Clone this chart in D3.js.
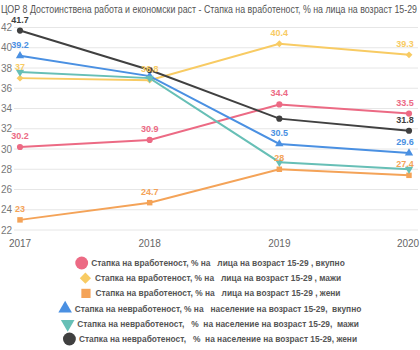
<!DOCTYPE html>
<html>
<head>
<meta charset="utf-8">
<script src="https://cdn.jsdelivr.net/npm/d3@7"></script>
<style>
  body { margin: 0; background: #fff; }
  svg { font-family: "Liberation Sans", Arial, sans-serif; }
  .leg text { white-space: pre; }
</style>
</head>
<body>
<div id="chart"></div>
<script>
// data
const years = ["2017", "2018", "2019", "2020"]
const yTicks = [22, 24, 26, 28, 30, 32, 34, 36, 38, 40, 42]

const empTotal = [30.2, 30.9, 34.4, 33.5]
const empMen = [37, 36.8, 40.4, 39.3]
const empWomen = [23, 24.7, 28, 27.4]
const unempTotal = [39.2, 37.2, 30.5, 29.6]
const unempMen = [37.6, 37.0, 28.7, 28.0]
const unempWomen = [41.7, 37.8, 33.0, 31.8]

// which years get a value label, per series
const labelsEmpTotal = [true, true, true, true]
const labelsEmpMen = [true, true, true, true]
const labelsEmpWomen = [true, true, true, true]
const labelsUnempTotal = [true, false, true, true]
const labelsUnempMen = [false, false, false, false]
const labelsUnempWomen = [true, false, false, true]

const title = "ЦОР 8 Достоинствена работа и економски раст - Стапка на вработеност, % на лица на возраст 15-29"

const series = [
  {name: "Стапка на вработеност, % на   лица на возраст 15-29 , вкупно", values: empTotal, labels: labelsEmpTotal, color: "#ec6a84", symbol: d3.symbolCircle},
  {name: "Стапка на вработеност, % на   лица на возраст 15-29 , мажи", values: empMen, labels: labelsEmpMen, color: "#f8cb63", symbol: d3.symbolDiamond2},
  {name: "Стапка на вработеност, % на   лица на возраст 15-29 , жени", values: empWomen, labels: labelsEmpWomen, color: "#f4a358", symbol: d3.symbolSquare},
  {name: "Стапка на невработеност, % на   население на возраст 15-29,  вкупно", values: unempTotal, labels: labelsUnempTotal, color: "#4a90e2", symbol: d3.symbolTriangle},
  {name: "Стапка на невработеност,   %  на население на возраст 15-29,  мажи", values: unempMen, labels: labelsUnempMen, color: "#67bfb6", symbol: "down"},
  {name: "Стапка на невработеност,   %  на население на возраст 15-29, жени", values: unempWomen, labels: labelsUnempWomen, color: "#404040", symbol: d3.symbolCircle}
]

const width = 420
const height = 350

const svg = d3.select("#chart")
  .append("svg")
  .attr("width", width)
  .attr("height", height)

svg.append("text")
  .attr("x", 1)
  .attr("y", 13)
  .attr("textLength", 416)
  .attr("lengthAdjust", "spacingAndGlyphs")
  .style("font-size", "11.5px")
  .style("fill", "#555")
  .text(title)

var x = d3.scalePoint()
  .domain(years)
  .range([20, 409])

var y = d3.scaleLinear()
  .domain([22, 42])
  .range([230, 27.5])

// grid
svg.append("g")
  .selectAll("line")
  .data(yTicks)
  .enter()
  .append("line")
  .attr("x1", 14)
  .attr("x2", 418)
  .attr("y1", function (d) { return y(d) })
  .attr("y2", function (d) { return y(d) })
  .style("stroke", "#e6e6e6")
  .style("stroke-width", 1)

svg.append("g")
  .selectAll("text")
  .data(yTicks)
  .enter()
  .append("text")
  .attr("x", 1)
  .attr("y", function (d) { return y(d) })
  .attr("dy", "0.35em")
  .style("font-size", "10px")
  .style("fill", "#777")
  .text(function (d) { return d })

svg.append("g")
  .selectAll("text")
  .data(years)
  .enter()
  .append("text")
  .attr("x", function (d, i) { return i == years.length - 1 ? x(d) - 1 : x(d) })
  .attr("y", 247)
  .attr("text-anchor", "middle")
  .style("font-size", "10px")
  .style("fill", "#666")
  .text(function (d) { return d })

function symbolPath(s, size) {
  if (s == "down") {
    return d3.symbol().type(d3.symbolTriangle).size(size)()
  }
  return d3.symbol().type(s).size(size)()
}

var line = d3.line()
  .x(function (d) { return x(d[0]) })
  .y(function (d) { return y(d[1]) })

series.forEach(function (s) {
  var pts = d3.zip(years, s.values)
  var g = svg.append("g")
  g.append("path")
    .datum(pts)
    .attr("d", line)
    .style("fill", "none")
    .style("stroke", s.color)
    .style("stroke-width", 2)
  g.selectAll("path.mk")
    .data(pts)
    .enter()
    .append("path")
    .attr("class", "mk")
    .attr("d", symbolPath(s.symbol, 30))
    .attr("transform", function (d) {
      return "translate(" + x(d[0]) + "," + y(d[1]) + ")" + (s.symbol == "down" ? " rotate(180)" : "")
    })
    .style("fill", s.color)
})

// value labels on top
series.forEach(function (s) {
  var pts = d3.zip(years, s.values, s.labels).filter(function (d) { return d[2] })
  svg.append("g")
    .selectAll("text")
    .data(pts)
    .enter()
    .append("text")
    .attr("x", function (d) { return d[0] == "2020" ? x(d[0]) - 4 : x(d[0]) })
    .attr("y", function (d) { return y(d[1]) - 8 })
    .attr("text-anchor", "middle")
    .style("font-size", "9px")
    .style("font-weight", "bold")
    .style("fill", s.color)
    .text(function (d) { return d[1] })
})

// legend
var legend = svg.append("g").attr("class", "leg")
series.forEach(function (s, i) {
  var row = legend.append("g")
  var ly = 263 + i * 15.2
  var t = row.append("text")
    .attr("y", ly + 3)
    .style("font-size", "8.4px")
    .style("font-weight", "bold")
    .style("fill", "#555")
    .text(s.name)
  var tw = t.node().getComputedTextLength()
  var total = 13 + 3 + tw
  var x0 = (width - total) / 2
  t.attr("x", x0 + 16)
  row.append("path")
    .attr("d", symbolPath(s.symbol, s.symbol == d3.symbolCircle ? 130 : (s.symbol == d3.symbolSquare ? 85 : 80)))
    .attr("transform", "translate(" + (x0 + 6.5) + "," + ly + ")" + (s.symbol == "down" ? " rotate(180)" : ""))
    .style("fill", s.color)
})
</script>
</body>
</html>
